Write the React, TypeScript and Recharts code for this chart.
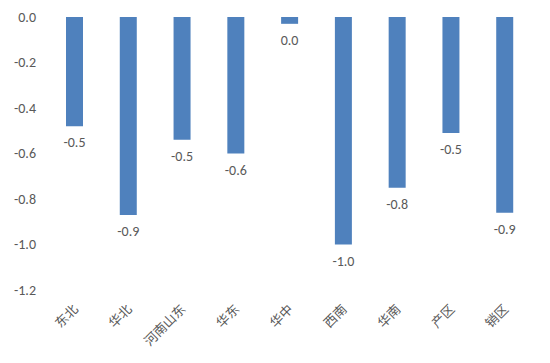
import { BarChart, Bar, XAxis, YAxis, LabelList } from "recharts";

const regions = ["东北", "华北", "河南山东", "华东", "华中", "西南", "华南", "产区", "销区"];
const changes = [-0.48, -0.87, -0.54, -0.6, -0.03, -1.0, -0.75, -0.51, -0.86];
const yTicks = [0, -0.2, -0.4, -0.6, -0.8, -1.0, -1.2];

const data = regions.map((region, i) => ({ region, value: changes[i] }));

const GRAY = "#595959";
const FONT = "Calibri, Carlito, 'Liberation Sans', 'Noto Sans CJK SC', sans-serif";

const fmt = (v: number) => {
  const s = v.toFixed(1);
  return s === "-0.0" ? "0.0" : s;
};

function XTick({ x, y, payload }: any) {
  return (
    <text
      x={x + 4}
      y={y + 12}
      transform={`rotate(-45, ${x + 4}, ${y + 12})`}
      textAnchor="end"
      fontSize={13}
      fill={GRAY}
      fontFamily="'Noto Sans CJK SC', sans-serif"
    >
      {payload.value}
    </text>
  );
}

function ValueLabel({ x, y, width, height, value }: any) {
  const end = Math.max(y, y + height);
  return (
    <text x={x + width / 2} y={end + 21} textAnchor="middle" fontSize={14} fill={GRAY} fontFamily={FONT}>
      {fmt(value)}
    </text>
  );
}

export default function App() {
  return (
    <div style={{ position: "absolute", left: 0, top: 0, background: "#fff" }}>
      <BarChart width={550} height={363} data={data} margin={{ top: 17, right: 18, left: 0, bottom: 0 }} barSize={17}>
        <XAxis
          dataKey="region"
          axisLine={false}
          tickLine={false}
          height={73}
          interval={0}
          tick={<XTick />}
        />
        <YAxis
          domain={[-1.2, 0]}
          ticks={yTicks}
          axisLine={false}
          tickLine={false}
          width={48}
          tickSize={9}
          tickMargin={3}
          tickFormatter={(v: number) => v.toFixed(1)}
          tick={{ fontSize: 14, fill: GRAY, fontFamily: FONT }}
        />
        <Bar dataKey="value" fill="#4F81BD" isAnimationActive={false}>
          <LabelList dataKey="value" content={<ValueLabel />} />
        </Bar>
      </BarChart>
    </div>
  );
}
